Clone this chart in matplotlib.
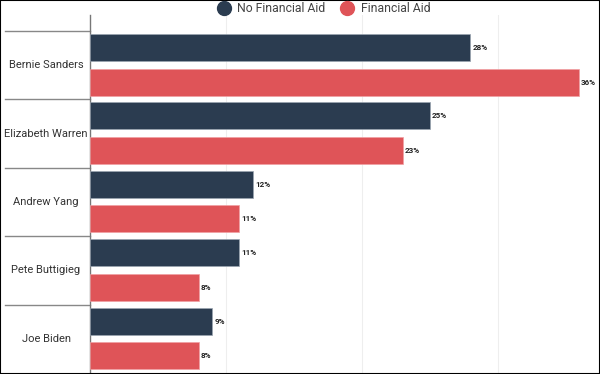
import numpy as np
import matplotlib.pyplot as plt
from matplotlib.patches import Rectangle
from matplotlib.lines import Line2D
import matplotlib.transforms as mtransforms

# data
candidates = ['Bernie Sanders', 'Elizabeth Warren', 'Andrew Yang', 'Pete Buttigieg', 'Joe Biden']
no_aid = [28, 25, 12, 11, 9]
fin_aid = [36, 23, 11, 8, 8]
series_names = ['No Financial Aid', 'Financial Aid']
navy = '#2b3c50'
red = '#df5458'

plt.rcParams['font.family'] = ['Roboto', 'DejaVu Sans']

fig = plt.figure(figsize=(6, 3.74), dpi=100)
# axes in pixel terms: left 90, right 590, top 15, bottom 373
W, H = 600, 374
ax = fig.add_axes([90 / W, 1 - 373 / H, 500 / W, (373 - 15) / H])

n = len(candidates)
pos = np.arange(n)
bh = 0.395
ax.barh(pos + 0.241, no_aid, height=bh, color=navy, edgecolor='#9aa5b1', linewidth=0.5, zorder=3)
ax.barh(pos + 0.746, fin_aid, height=bh, color=red, edgecolor='#f0a0a3', linewidth=0.5, zorder=3)

for i in range(n):
    ax.text(no_aid[i] + 0.15, pos[i] + 0.241, f'{no_aid[i]}%', va='center', ha='left',
            fontsize=5.8, fontweight='bold', color='#222222')
    ax.text(fin_aid[i] + 0.15, pos[i] + 0.746, f'{fin_aid[i]}%', va='center', ha='left',
            fontsize=5.8, fontweight='bold', color='#222222')

ax.set_xlim(0, 36.8)
top_pad = 16 / 68.4
ax.set_ylim(5.0, -top_pad)

ax.set_xticks([10, 20, 30])
ax.xaxis.grid(True, color='#eeeeee', linewidth=0.8, zorder=0)
ax.tick_params(axis='both', length=0, labelbottom=False, labelleft=False)
ax.set_yticks([])
for s in ['top', 'right', 'bottom']:
    ax.spines[s].set_visible(False)
ax.spines['left'].set_color('#777777')
ax.spines['left'].set_linewidth(1.0)

# group separators and labels to the left of the axis
trans = mtransforms.blended_transform_factory(ax.transAxes, ax.transData)
x0 = -85 / 500
for i in range(n):
    ax.add_line(Line2D([x0, 0], [i, i], transform=trans, color='#888888', linewidth=1.0, clip_on=False))
    ax.text(-44 / 500, i + 0.5, candidates[i], transform=trans, ha='center', va='center',
            fontsize=8, fontweight='normal', color='#333333')

# legend
fig.legend(handles=[Line2D([], [], marker='o', linestyle='', markersize=10, color=navy),
                    Line2D([], [], marker='o', linestyle='', markersize=10, color=red)],
           labels=series_names, loc='center', bbox_to_anchor=(0.535, 1 - 8.5 / H), ncol=2,
           frameon=False, fontsize=8.8, handletextpad=0.1, columnspacing=0.8,
           labelcolor='#444444', borderpad=0)

# figure border
fig.add_artist(Rectangle((0, 0), 1, 1, transform=fig.transFigure, fill=False,
                         edgecolor='black', linewidth=1.5))

fig.savefig('out.png', dpi=100)
